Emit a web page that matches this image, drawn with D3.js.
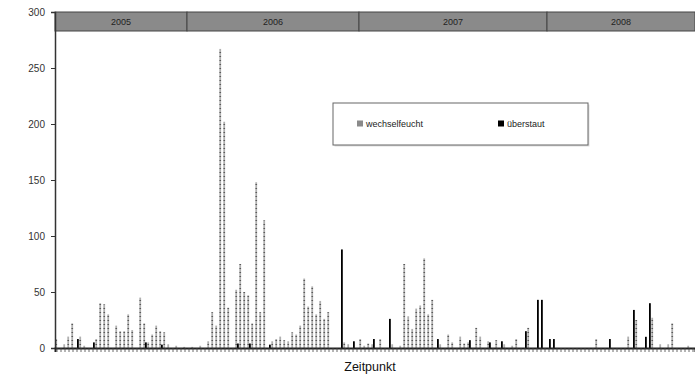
<!DOCTYPE html>
<html>
<head>
<meta charset="utf-8">
<script src="https://cdn.jsdelivr.net/npm/d3@7"></script>
<style>
  html, body { margin: 0; padding: 0; background: #fff; }
  svg { display: block; font-family: "Liberation Sans", Arial, sans-serif; }
</style>
</head>
<body>
<svg id="chart" width="695" height="378"></svg>
<script>
// Wasserstand je Messzeitpunkt (160 Termine, 2005-2008)
const wechselfeucht = [
  8,0,3,10,22,0,10,2,0,0, 8,40,39,30,0,20,15,15,30,16,
  0,45,22,5,12,20,15,14,3,0, 2,0,1,0,1,0,2,0,6,32,
  20,267,202,36,0,52,75,50,47,22, 148,32,114,0,6,8,10,7,6,14,
  12,20,62,37,55,30,42,26,32,0, 0,0,5,3,0,0,8,2,4,3,
  0,8,0,0,3,0,2,75,28,17, 35,38,80,30,43,0,3,0,12,5,
  0,10,4,5,0,18,10,0,6,0, 7,0,3,0,2,8,0,0,18,0,
  0,0,0,0,0,0,0,0,0,0, 0,0,0,0,0,8,0,0,0,0,
  0,0,0,10,0,25,0,0,0,27, 0,3,0,3,22,0,0,0,2,0
];
const ueberstaut = [
  0,0,0,0,0,8,0,0,0,5, 0,0,0,0,0,0,0,0,0,0,
  0,0,5,0,0,0,3,0,0,0, 0,0,0,0,0,0,0,0,0,0,
  0,0,0,0,0,4,0,0,4,0, 0,0,0,3,0,0,0,0,0,0,
  0,0,0,0,0,0,0,0,0,0, 0,88,0,0,6,0,0,0,0,8,
  0,0,0,26,0,0,0,0,0,0, 0,0,0,0,0,8,0,0,0,0,
  0,0,0,7,0,0,0,0,5,0, 0,6,0,0,0,0,0,15,0,0,
  43,43,0,8,8,0,0,0,0,0, 0,0,0,0,0,0,0,0,8,0,
  0,0,0,0,34,0,0,10,40,0, 0,0,0,0,0,0,0,0,0,0
];
const zeitpunkte = d3.range(wechselfeucht.length);

// Jahresabschnitte: erster und letzter Termin je Jahr
const jahre = ["2005", "2006", "2007", "2008"];
const jahrStart = [0, 33, 76, 123];
const jahrEnde = [32, 75, 122, 159];

const yTicks = [0, 50, 100, 150, 200, 250, 300];
const serien = ["wechselfeucht", "überstaut"];

const svg = d3.select("#chart");
const mLeft = 55, mRight = 695, mTop = 12, mBottom = 348;

// Punktraster für die Serie "wechselfeucht"
const pat = svg.append("defs").append("pattern")
  .attr("id", "raster")
  .attr("patternUnits", "userSpaceOnUse")
  .attr("width", 4).attr("height", 4);
pat.append("rect").attr("width", 4).attr("height", 4).attr("fill", "#b0b0b0");
pat.append("rect").attr("width", 4).attr("height", 1).attr("fill", "#5a5a5a");
const farben = ["url(#raster)", "#000000"];

const x = d3.scaleBand().domain(zeitpunkte).range([mLeft, mRight]).paddingInner(0).paddingOuter(0);
const y = d3.scaleLinear().domain([0, 300]).range([mBottom, mTop]);
const bw = x.bandwidth();

// Balken: wechselfeucht links, überstaut rechts im Termin
svg.append("g").selectAll("rect")
  .data(zeitpunkte.filter(i => wechselfeucht[i] > 0))
  .join("rect")
  .attr("x", i => x(i) + 0.3)
  .attr("width", 1.8)
  .attr("y", i => y(wechselfeucht[i]))
  .attr("height", i => y(0) - y(wechselfeucht[i]))
  .attr("fill", farben[0]);

svg.append("g").selectAll("rect")
  .data(zeitpunkte.filter(i => ueberstaut[i] > 0))
  .join("rect")
  .attr("x", i => x(i) + bw / 2)
  .attr("width", 1.8)
  .attr("y", i => y(ueberstaut[i]))
  .attr("height", i => y(0) - y(ueberstaut[i]))
  .attr("fill", farben[1]);

// Jahresband oben
const bandEnde = k => (k === jahre.length - 1 ? mRight : x(jahrEnde[k]) + bw);
const band = svg.append("g");
band.selectAll("rect")
  .data(jahre)
  .join("rect")
  .attr("x", (d, k) => x(jahrStart[k]))
  .attr("width", (d, k) => bandEnde(k) - x(jahrStart[k]))
  .attr("y", mTop)
  .attr("height", 19)
  .attr("fill", "#8a8a8a")
  .attr("stroke", "#444")
  .attr("stroke-width", 1);
band.selectAll("text")
  .data(jahre)
  .join("text")
  .attr("x", (d, k) => (x(jahrStart[k]) + bandEnde(k)) / 2)
  .attr("y", mTop + 13)
  .attr("text-anchor", "middle")
  .attr("font-size", 9)
  .attr("fill", "#222")
  .text(d => d);

// y-Achse
const yAxis = svg.append("g")
  .attr("transform", `translate(${mLeft},0)`)
  .call(d3.axisLeft(y).tickValues(yTicks).tickSize(4).tickPadding(6));
yAxis.select(".domain").attr("stroke", "#333").attr("stroke-width", 1.5);
yAxis.selectAll(".tick line").attr("stroke", "#333");
yAxis.selectAll("text").attr("font-size", 10).attr("fill", "#333")
  .attr("font-family", "'Liberation Sans', Arial, sans-serif");

// x-Achse mit Terminstrichen
const xAxis = svg.append("g")
  .attr("transform", `translate(0,${mBottom})`)
  .call(d3.axisBottom(x).tickValues(zeitpunkte).tickSize(4).tickFormat(""));
xAxis.select(".domain").attr("stroke", "#222").attr("stroke-width", 2);
xAxis.selectAll(".tick line").attr("stroke", "#444").attr("stroke-width", 0.8);

svg.append("text")
  .attr("x", 370)
  .attr("y", 371)
  .attr("text-anchor", "middle")
  .attr("font-size", 12.5)
  .attr("fill", "#111")
  .text("Zeitpunkt");

// Legende
const leg = svg.append("g").attr("transform", "translate(333,103)");
leg.append("rect")
  .attr("x", 1.5).attr("y", 1.5).attr("width", 255).attr("height", 42)
  .attr("fill", "#ddd");
leg.append("rect")
  .attr("width", 255).attr("height", 42)
  .attr("fill", "#fff").attr("stroke", "#666").attr("stroke-width", 1);
const items = leg.selectAll("g.item")
  .data(serien)
  .join("g")
  .attr("class", "item")
  .attr("transform", (d, k) => `translate(${k === 0 ? 24 : 165},21)`);
items.append("rect")
  .attr("x", 0).attr("y", -3.5).attr("width", 6).attr("height", 6)
  .attr("fill", (d, k) => k === 0 ? "#8a8a8a" : farben[k]);
items.append("text")
  .attr("x", 9).attr("y", 3)
  .attr("font-size", 9)
  .attr("fill", "#222")
  .text(d => d);
</script>
</body>
</html>
